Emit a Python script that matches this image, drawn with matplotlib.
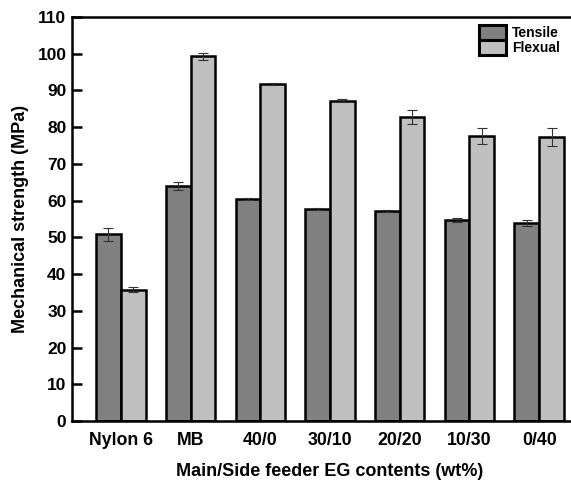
import matplotlib
matplotlib.use("Agg")
import matplotlib.pyplot as plt
import numpy as np

plt.rcParams['font.family'] = ['Liberation Sans', 'DejaVu Sans']
plt.rcParams['font.weight'] = 'bold'

categories = ["Nylon 6", "MB", "40/0", "30/10", "20/20", "10/30", "0/40"]
tensile = [50.8, 64.0, 60.5, 57.7, 57.2, 54.8, 54.0]
tensile_err = [1.8, 1.0, 0.3, 0.2, 0.3, 0.5, 0.8]
flexual = [35.8, 99.3, 91.8, 87.2, 82.8, 77.6, 77.3]
flexual_err = [0.8, 1.0, 0.2, 0.4, 1.8, 2.3, 2.5]

fig = plt.figure(figsize=(5.71, 4.84), dpi=100)
ax = fig.add_axes([72 / 571, 1 - 421 / 484, (588 - 72) / 571, (421 - 17) / 484])

x = np.arange(len(categories))
w = 0.355
err_kw = dict(ecolor='#333333', elinewidth=0.8, capsize=3.5, capthick=0.8)
ax.bar(x - w / 2, tensile, w, color='#808080', edgecolor='black', linewidth=1.8,
       yerr=tensile_err, error_kw=err_kw, label='Tensile', zorder=2)
ax.bar(x + w / 2, flexual, w, color='#c0c0c0', edgecolor='black', linewidth=1.8,
       yerr=flexual_err, error_kw=err_kw, label='Flexual', zorder=2)

ax.set_xlim(-0.7, 6.7)
ax.set_ylim(0, 110)
ax.set_yticks(np.arange(0, 111, 10))
ax.set_xticks(x)
ax.set_xticklabels(categories)
ax.tick_params(axis='y', direction='in', length=7, width=1.8, labelsize=12.5, pad=4)
ax.tick_params(axis='x', length=0, labelsize=12.8, pad=8)
for s in ax.spines.values():
    s.set_linewidth(1.8)

ax.set_ylabel('Mechanical strength (MPa)', fontsize=13, fontweight='bold', labelpad=6)
ax.set_xlabel('Main/Side feeder EG contents (wt%)', fontsize=13, fontweight='bold', labelpad=10)

leg = ax.legend(loc='upper left', bbox_to_anchor=(0.788, 0.98), frameon=False,
                fontsize=10, handlelength=2.0, handleheight=1.25, labelspacing=0.0,
                handletextpad=0.4, borderpad=0.0, borderaxespad=0.0)
for t in leg.get_texts():
    t.set_fontweight('bold')
for p in leg.get_patches():
    p.set_linewidth(2.2)

fig.savefig('out.png', dpi=100)
